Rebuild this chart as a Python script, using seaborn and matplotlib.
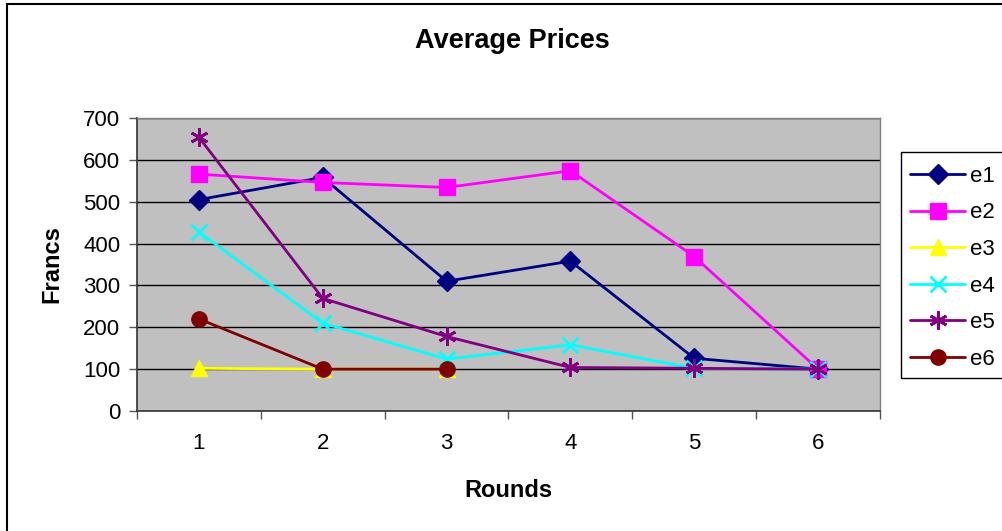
import numpy as np
import pandas as pd
import matplotlib
matplotlib.use("Agg")
import matplotlib.pyplot as plt
import matplotlib.patches as mpatches
import seaborn as sns

# Average price per round for each experiment session
rounds = [1, 2, 3, 4, 5, 6]
e1 = [505, 558, 310, 358, 126, 100]
e2 = [566, 546, 534, 574, 369, 100]
e3 = [102, 100, 100, np.nan, np.nan, np.nan]
e4 = [428, 210, 124, 158, 102, 100]
e5 = [654, 269, 178, 104, 102, 100]
e6 = [220, 100, 100, np.nan, np.nan, np.nan]
series_names = ["e1", "e2", "e3", "e4", "e5", "e6"]
y_ticks = [0, 100, 200, 300, 400, 500, 600, 700]

sns.set_theme(style="white")
plt.rcParams["font.family"] = ["Liberation Sans", "DejaVu Sans"]
for key in ["text.color", "axes.labelcolor", "xtick.color", "ytick.color"]:
    plt.rcParams[key] = "black"

colors = ["#000080", "#FF00FF", "#FFFF00", "#00FFFF", "#800080", "#800000"]
markers = ["D", "s", "^", "x", (6, 2, 0), "o"]
msizes = [10, 11, 11, 12, 13, 11]

W, H = 1003, 531
fig = plt.figure(figsize=(W / 100, H / 100), dpi=100)
ax = fig.add_axes([137 / W, 1 - 411 / H, 743 / W, 293 / H])
ax.set_facecolor("#C0C0C0")

values = [e1, e2, e3, e4, e5, e6]
for name, vals, c, m, ms in zip(series_names, values, colors, markers, msizes):
    df = pd.DataFrame({"Rounds": rounds, "Francs": vals}).dropna()
    sns.lineplot(data=df, x="Rounds", y="Francs", ax=ax, color=c, marker=m,
                 markersize=ms, markeredgecolor=c, markerfacecolor=c,
                 markeredgewidth=2 if m in ("x", (6, 2, 0)) else 1,
                 linewidth=2, label=name)

ax.set_xlim(0.5, 6.5)
ax.set_ylim(0, 700)
ax.set_yticks(y_ticks)
ax.set_yticklabels([str(v) for v in y_ticks], fontsize=16)
ax.yaxis.grid(True, color="black", linewidth=1)
ax.xaxis.grid(False)
ax.set_axisbelow(True)

# Category labels at centers, tick marks between categories
ax.set_xticks(rounds)
ax.set_xticklabels([str(r) for r in rounds], fontsize=16)
ax.set_xticks(np.arange(0.5, 7.0, 1.0), minor=True)
ax.tick_params(axis="x", which="major", length=0, pad=16)
ax.tick_params(axis="x", which="minor", length=6, width=1, color="#555555", direction="out", bottom=True)
ax.tick_params(axis="y", which="major", length=6, width=1, color="#555555", direction="out", left=True, pad=6)

for side in ["top", "right"]:
    ax.spines[side].set_color("#808080")
    ax.spines[side].set_linewidth(1)
for side in ["left", "bottom"]:
    ax.spines[side].set_color("#333333")
    ax.spines[side].set_linewidth(1.2)

ax.set_xlabel("Rounds", fontsize=17, fontweight="bold", labelpad=18)
ax.set_ylabel("Francs", fontsize=17, fontweight="bold", labelpad=14)
fig.text(512 / W, 1 - 41 / H, "Average Prices", ha="center", va="center",
         fontsize=19.5, fontweight="bold")

leg = ax.legend(loc="upper left", bbox_to_anchor=(901 / W, 1 - 157 / H),
                bbox_transform=fig.transFigure, fontsize=16, frameon=False,
                handlelength=2.5, labelspacing=0.7, borderpad=0.4,
                handletextpad=0.2, borderaxespad=0)

# Legend box, running off the right edge of the figure
fig.patches.append(mpatches.Rectangle((901 / W, 1 - 378 / H), 120 / W, 226 / H,
                                      transform=fig.transFigure, fill=False,
                                      edgecolor="black", linewidth=1))

# Outer chart border (clipped at right and bottom)
fig.patches.append(mpatches.Rectangle((7.5 / W, -10 / H), 1.1, (H - 4 + 10) / H,
                                      transform=fig.transFigure, fill=False,
                                      edgecolor="black", linewidth=1.5))

fig.savefig("out.png", dpi=100, facecolor="white")
